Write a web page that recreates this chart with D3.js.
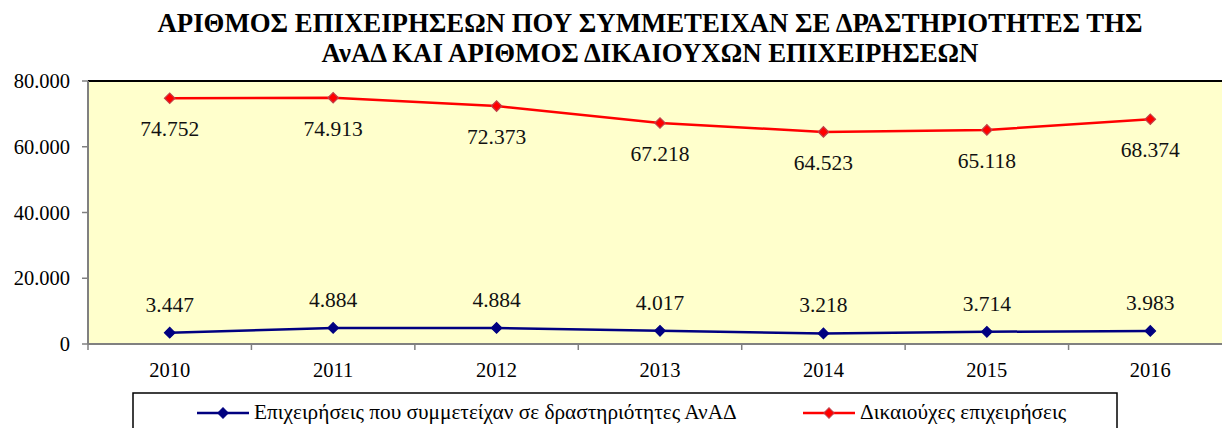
<!DOCTYPE html>
<html>
<head>
<meta charset="utf-8">
<script src="https://cdn.jsdelivr.net/npm/d3@7"></script>
<style>
  body { margin: 0; background: #fff; }
</style>
</head>
<body>
<div id="vis"></div>
<script>
const years = ["2010", "2011", "2012", "2013", "2014", "2015", "2016"];
const participating = [3447, 4884, 4884, 4017, 3218, 3714, 3983];
const eligible = [74752, 74913, 72373, 67218, 64523, 65118, 68374];
const yTicks = [0, 20000, 40000, 60000, 80000];
const titleLines = [
  "ΑΡΙΘΜΟΣ ΕΠΙΧΕΙΡΗΣΕΩΝ ΠΟΥ ΣΥΜΜΕΤΕΙΧΑΝ ΣΕ ΔΡΑΣΤΗΡΙΟΤΗΤΕΣ ΤΗΣ",
  "ΑνΑΔ ΚΑΙ ΑΡΙΘΜΟΣ ΔΙΚΑΙΟΥΧΩΝ ΕΠΙΧΕΙΡΗΣΕΩΝ"
];
const seriesNames = [
  "Επιχειρήσεις που συμμετείχαν σε δραστηριότητες ΑνΑΔ",
  "Δικαιούχες επιχειρήσεις"
];

const width = 1222;
const height = 428;
const plotL = 88, plotR = 1232, plotT = 81, plotB = 344;
const serif = "'Liberation Serif', 'DejaVu Serif', serif";

const svg = d3.select("#vis")
  .append("svg")
  .attr("width", width)
  .attr("height", height)
  .style("display", "block")
  .attr("font-family", serif);

const x = d3.scaleBand().domain(years).range([plotL, plotR]);
const y = d3.scaleLinear().domain([0, 80000]).range([plotB, plotT]);
const fmt = v => d3.format(",")(v).replace(/,/g, ".");

// plot area
svg.append("rect")
  .attr("x", plotL).attr("y", plotT)
  .attr("width", plotR - plotL).attr("height", plotB - plotT)
  .attr("fill", "#ffffcc");
svg.append("line")
  .attr("x1", plotL).attr("x2", plotR).attr("y1", plotT).attr("y2", plotT)
  .attr("stroke", "#000").attr("stroke-width", 2);
svg.append("line")
  .attr("x1", plotL).attr("x2", plotL).attr("y1", plotT).attr("y2", plotB)
  .attr("stroke", "#808080").attr("stroke-width", 2);
svg.append("line")
  .attr("x1", plotL).attr("x2", plotR).attr("y1", plotB).attr("y2", plotB)
  .attr("stroke", "#808080").attr("stroke-width", 2);

// y axis ticks + labels
yTicks.forEach(t => {
  svg.append("line")
    .attr("x1", plotL - 6).attr("x2", plotL).attr("y1", y(t)).attr("y2", y(t))
    .attr("stroke", "#808080").attr("stroke-width", 1.5);
  svg.append("text")
    .attr("x", plotL - 18).attr("y", y(t))
    .attr("dy", "0.35em")
    .attr("text-anchor", "end")
    .attr("font-size", 20.5)
    .text(fmt(t));
});

// x axis ticks at band edges + labels
years.forEach(yr => {
  svg.append("line")
    .attr("x1", x(yr)).attr("x2", x(yr)).attr("y1", plotB).attr("y2", plotB + 6)
    .attr("stroke", "#808080").attr("stroke-width", 1.5);
  svg.append("text")
    .attr("x", x(yr) + x.bandwidth() / 2).attr("y", plotB + 33)
    .attr("text-anchor", "middle")
    .attr("font-size", 20.5)
    .text(yr);
});

const line = d3.line()
  .x((d, i) => x(years[i]) + x.bandwidth() / 2)
  .y(d => y(d));

// square diamond (rotated square)
const diamond = d3.symbol().type(d3.symbolSquare).size(55);

function drawSeries(values, color, edge, labelDy) {
  svg.append("path")
    .datum(values)
    .attr("fill", "none")
    .attr("stroke", color)
    .attr("stroke-width", 2.5)
    .attr("d", line);
  svg.selectAll(null)
    .data(values)
    .enter()
    .append("path")
    .attr("d", diamond)
    .attr("transform", (d, i) => `translate(${x(years[i]) + x.bandwidth() / 2},${y(d)}) rotate(45)`)
    .attr("fill", color)
    .attr("stroke", edge)
    .attr("stroke-width", 1.2);
  svg.selectAll(null)
    .data(values)
    .enter()
    .append("text")
    .attr("x", (d, i) => x(years[i]) + x.bandwidth() / 2)
    .attr("y", d => y(d) + labelDy)
    .attr("text-anchor", "middle")
    .attr("font-size", 21.5)
    .attr("fill", "#111")
    .text(d => fmt(d));
}

drawSeries(participating, "#000080", "#000080", -21);
drawSeries(eligible, "#ff0000", "#c0404a", 38);

// title
svg.selectAll(null)
  .data(titleLines)
  .enter()
  .append("text")
  .attr("x", 650)
  .attr("y", (d, i) => 32 + i * 30)
  .attr("text-anchor", "middle")
  .attr("font-size", 26.8)
  .attr("font-weight", "bold")
  .text(d => d);

// legend
svg.append("rect")
  .attr("x", 133).attr("y", 393)
  .attr("width", 984).attr("height", 60)
  .attr("fill", "#fff")
  .attr("stroke", "#000")
  .attr("stroke-width", 1.5);

const legendItems = [
  { name: seriesNames[0], color: "#000080", edge: "#000080", x: 197 },
  { name: seriesNames[1], color: "#ff0000", edge: "#c0404a", x: 803 }
];
legendItems.forEach(it => {
  svg.append("line")
    .attr("x1", it.x).attr("x2", it.x + 52).attr("y1", 413).attr("y2", 413)
    .attr("stroke", it.color).attr("stroke-width", 2.5);
  svg.append("path")
    .attr("d", diamond)
    .attr("transform", `translate(${it.x + 26},413) rotate(45)`)
    .attr("fill", it.color)
    .attr("stroke", it.edge);
  svg.append("text")
    .attr("x", it.x + 57).attr("y", 419)
    .attr("font-size", 21.3)
    .text(it.name);
});
</script>
</body>
</html>
